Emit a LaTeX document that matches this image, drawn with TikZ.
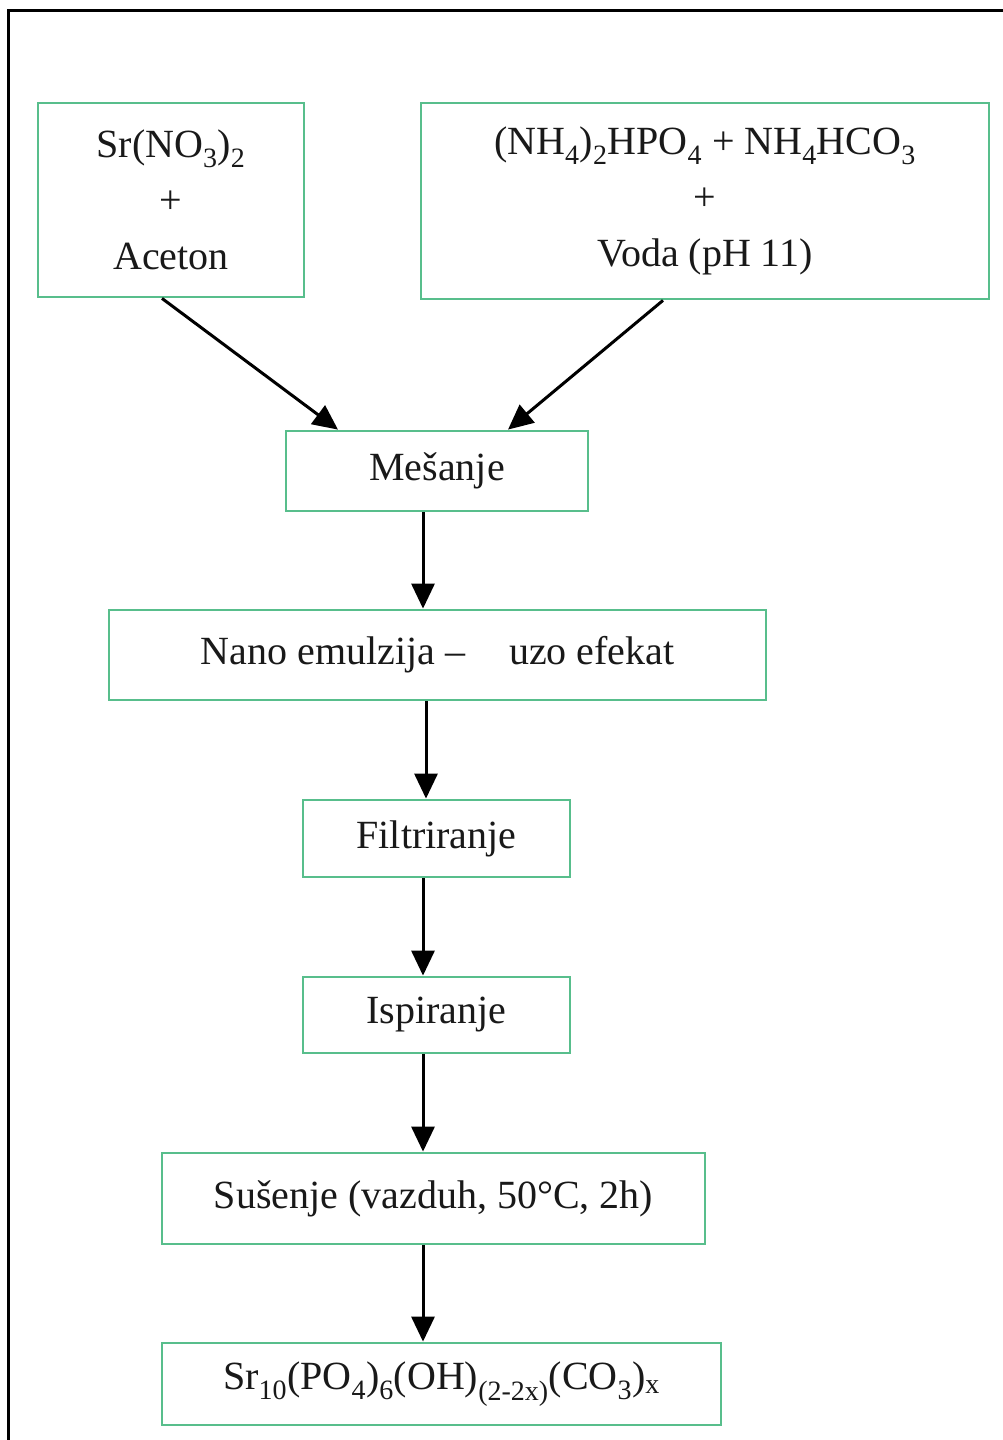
\documentclass[tikz,border=0pt]{standalone}
\usepackage{fontspec}
\setmainfont{Liberation Serif}
\usetikzlibrary{arrows.meta}
\definecolor{boxgreen}{RGB}{88,190,140}
\tikzset{
  x=1pt, y=-1pt,
  stepbox/.style={draw=boxgreen, line width=2.8pt, fill=white, align=center, inner sep=0pt,
    font=\fontsize{40}{56}\selectfont, text=black!90},
  arr/.style={line width=3pt, draw=black, -{Triangle[width=23pt,length=25pt]}}
}
\begin{document}
\begin{tikzpicture}
\useasboundingbox (0,0) rectangle (1003,1440);
\fill[white] (0,0) rectangle (1003,1440);
\draw[line width=3pt] (8,1442) -- (8,10) -- (1005,10);

\node[stepbox, minimum width=266pt, minimum height=194pt] (b1) at (171,200)
  {Sr(NO\textsubscript{3})\textsubscript{2}\\+\\Aceton};
\node[stepbox, minimum width=568pt, minimum height=196pt] (b2) at (705,201)
  {(NH\textsubscript{4})\textsubscript{2}HPO\textsubscript{4} + NH\textsubscript{4}HCO\textsubscript{3}\\+\\Voda (pH 11)};
\node[stepbox, minimum width=302pt, minimum height=80pt] (mix) at (437,471) {Mešanje};
\node[stepbox, minimum width=657pt, minimum height=90pt] (nano) at (437.5,655) {Nano emulzija –\hspace{1.1em}uzo efekat};
\node[stepbox, minimum width=267pt, minimum height=77pt] (filt) at (436.5,838.5) {Filtriranje};
\node[stepbox, minimum width=267pt, minimum height=76pt] (isp) at (436.5,1015) {Ispiranje};
\node[stepbox, minimum width=543pt, minimum height=91pt] (sus) at (433.5,1198.5) {Sušenje (vazduh, 50°C, 2h)};
\node[stepbox, minimum width=559pt, minimum height=82pt] (fin) at (441.5,1384)
  {Sr\textsubscript{10}(PO\textsubscript{4})\textsubscript{6}(OH)\textsubscript{(2-2x)}(CO\textsubscript{3})\textsubscript{x}};

\draw[arr] ([xshift=-9pt]b1.south) -- ([xshift=-99pt]mix.north);
\draw[arr] ([xshift=-42pt]b2.south) -- ([xshift=71pt]mix.north);
\draw[arr] ([xshift=-14pt]mix.south) -- ([xshift=-14.5pt]nano.north);
\draw[arr] ([xshift=-11.5pt]nano.south) -- ([xshift=-10.5pt]filt.north);
\draw[arr] ([xshift=-13.5pt]filt.south) -- ([xshift=-13.5pt]isp.north);
\draw[arr] ([xshift=-13.5pt]isp.south) -- ([xshift=-10.5pt]sus.north);
\draw[arr] ([xshift=-10.5pt]sus.south) -- ([xshift=-18.5pt]fin.north);
\end{tikzpicture}
\end{document}
